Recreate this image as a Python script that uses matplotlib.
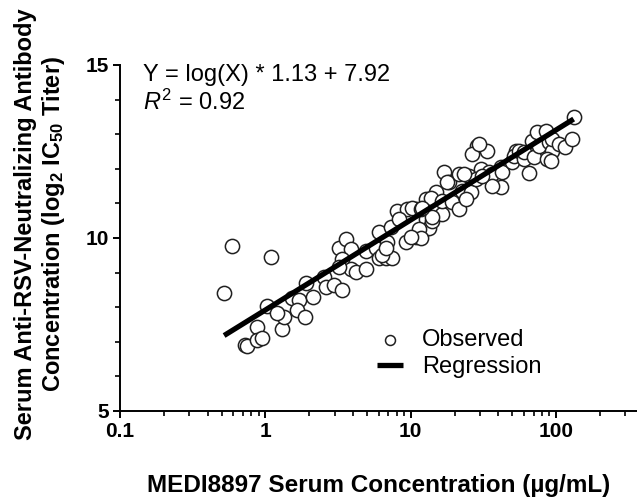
import numpy as np
import matplotlib
matplotlib.use("Agg")
import matplotlib.pyplot as plt
from matplotlib.ticker import LogLocator, MultipleLocator, FixedLocator

plt.rcParams['font.family'] = ['Liberation Sans', 'DejaVu Sans']
plt.rcParams['mathtext.fontset'] = 'custom'
plt.rcParams['mathtext.rm'] = 'Liberation Sans'
plt.rcParams['mathtext.it'] = 'Liberation Sans:italic'
plt.rcParams['mathtext.bf'] = 'Liberation Sans:bold'

# observed points: serum concentration (ug/mL) vs log2 IC50 titer
conc = [0.52, 0.585, 1.10, 0.72, 0.75, 0.87, 0.87, 0.95, 1.03, 1.31,
        1.35, 1.21, 1.53, 1.71, 1.66, 1.88, 1.91, 2.13, 2.54, 2.62,
        2.98, 3.38, 3.22, 3.60, 3.89, 3.38, 3.89, 4.21, 4.93, 4.93,
        5.78, 6.06, 6.88, 6.06, 6.77, 7.44, 7.33, 3.22, 8.05, 9.43,
        10.9, 9.29, 10.9, 11.9, 12.7, 8.31, 10.2, 6.35, 6.77, 13.4,
        11.4, 11.8, 10.0, 14.0, 16.4, 11.8, 12.7, 14.9, 13.8, 16.4,
        19.2, 22.5, 25.9, 21.5, 14.0, 11.9, 16.9, 18.3, 21.5, 25.1,
        30.4, 34.5, 41.7, 38.5, 41.7, 28.5, 26.4, 33.4, 29.4, 24.0,
        28.1, 36.1, 36.1, 30.9, 23.2, 17.7, 42.3, 49.6, 52.8, 51.2,
        55.4, 60.0, 60.0, 64.9, 70.2, 68.0, 73.6, 76.0, 84.9, 89.0,
        93.3, 86.1, 91.8, 93.3, 104, 116, 128, 132]
titer = [8.42, 9.78, 9.46, 6.91, 6.88, 7.43, 7.06, 7.12, 8.04, 7.38,
         7.72, 7.84, 8.28, 8.22, 7.93, 7.72, 8.71, 8.30, 8.88, 8.59,
         8.65, 8.51, 9.72, 9.96, 9.67, 9.38, 9.09, 9.03, 9.09, 9.61,
         9.72, 10.16, 9.87, 9.43, 9.41, 9.43, 10.33, 9.17, 10.77, 10.83,
         10.83, 9.87, 10.04, 10.16, 10.54, 10.54, 10.88, 9.52, 9.72, 10.30,
         10.25, 10.01, 10.04, 10.48, 10.68, 10.83, 11.12, 11.32, 11.17, 11.06,
         11.03, 11.35, 11.32, 10.83, 10.62, 10.88, 11.90, 11.61, 11.84, 11.78,
         11.99, 11.90, 12.04, 11.64, 11.46, 12.65, 12.42, 12.51, 12.71, 11.12,
         11.70, 11.84, 11.49, 11.78, 11.84, 11.61, 11.90, 12.19, 12.51, 12.36,
         12.51, 12.28, 12.48, 11.87, 12.33, 12.80, 13.06, 12.65, 13.09, 12.77,
         12.51, 12.28, 12.22, 12.86, 12.71, 12.62, 12.86, 13.49]

# fitted regression Y = ln(X) * slope + intercept
slope = 1.13
intercept = 7.92
r2 = 0.92

x_ticks = [0.1, 1, 10, 100]
x_ticklabels = ['0.1', '1', '10', '100']
y_ticks = [5, 10, 15]

fig = plt.figure(figsize=(6.37, 4.98), dpi=100)
ax = fig.add_axes([0.1884, 0.1747, 0.8116, 0.6948])

xfit = np.geomspace(min(conc), max(conc), 50)
ax.plot(xfit, np.log(xfit) * slope + intercept, color='black', lw=3.8,
        solid_capstyle='butt', zorder=3, label='Regression')
ax.scatter(conc, titer, s=105, facecolor='white', edgecolor='#202020',
           linewidth=1.1, zorder=2, label='Observed')

ax.set_xscale('log')
ax.set_xlim(0.1, 360)
ax.set_ylim(5, 15)
ax.xaxis.set_major_locator(FixedLocator(x_ticks))
ax.set_xticklabels(x_ticklabels)
ax.xaxis.set_minor_locator(LogLocator(base=10, subs=np.arange(2, 10)))
ax.xaxis.set_minor_formatter(plt.NullFormatter())
ax.yaxis.set_major_locator(FixedLocator(y_ticks))
ax.yaxis.set_minor_locator(MultipleLocator(1))

for s in ['top', 'right']:
    ax.spines[s].set_visible(False)
for s in ['left', 'bottom']:
    ax.spines[s].set_linewidth(1.4)
ax.tick_params(which='major', length=5, width=1.4, labelsize=15, pad=3)
ax.tick_params(which='minor', length=3.5, width=1.2)
for lab in ax.get_xticklabels() + ax.get_yticklabels():
    lab.set_fontweight('bold')

ax.set_xlabel('MEDI8897 Serum Concentration (µg/mL)', fontsize=17.5,
              fontweight='bold', labelpad=24)
fig.text(0.063, 0.55,
         'Serum Anti-RSV-Neutralizing Antibody\n'
         r'Concentration (log$_\mathbf{2}$ IC$_\mathbf{50}$ Titer)',
         rotation=90, ha='center', va='center', fontsize=17,
         fontweight='bold', linespacing=1.15)

ax.text(0.045, 0.972, f'Y = log(X) * {slope:.2f} + {intercept:.2f}',
        transform=ax.transAxes, fontsize=17, va='center')
ax.text(0.045, 0.893, f'$R^2$ = {r2:.2f}',
        transform=ax.transAxes, fontsize=17, va='center')

h, l = ax.get_legend_handles_labels()
ax.legend(h[::-1], l[::-1], loc='upper left', bbox_to_anchor=(0.498, 0.237),
          frameon=False, fontsize=17, handlelength=1.1, handletextpad=0.8,
          labelspacing=0.22, borderaxespad=0, borderpad=0, markerscale=0.7)

fig.savefig('out.png', dpi=100)
